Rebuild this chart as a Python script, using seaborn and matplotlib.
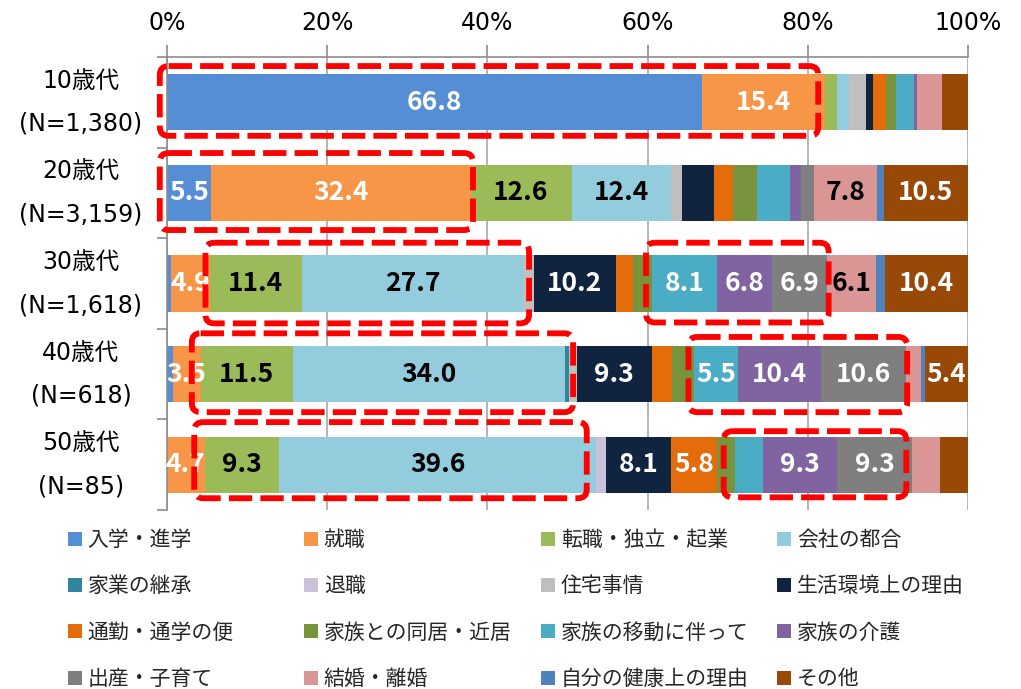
import matplotlib
matplotlib.use("Agg")
import matplotlib.pyplot as plt
import seaborn as sns
import pandas as pd
import numpy as np
from matplotlib.patches import FancyBboxPatch, Patch

# ---------------- data ----------------
age_groups = ["10歳代\n(N=1,380)", "20歳代\n(N=3,159)", "30歳代\n(N=1,618)",
              "40歳代\n(N=618)", "50歳代\n(N=85)"]

reasons = ["入学・進学", "就職", "転職・独立・起業", "会社の都合",
           "家業の継承", "退職", "住宅事情", "生活環境上の理由",
           "通勤・通学の便", "家族との同居・近居", "家族の移動に伴って", "家族の介護",
           "出産・子育て", "結婚・離婚", "自分の健康上の理由", "その他"]

colors = ["#558ED5", "#F79646", "#9BBB59", "#93CDDD",
          "#31859C", "#CCC1DA", "#BFBFBF", "#11243F",
          "#E46C0A", "#77933C", "#4BACC6", "#8064A2",
          "#7F7F7F", "#D99694", "#4F81BD", "#984807"]

share_10s = [66.8, 15.4, 1.5, 1.5, 0.0, 0.0, 2.1, 0.8, 1.7, 1.2, 2.3, 0.3, 0.0, 3.1, 0.0, 3.3]
share_20s = [5.5, 32.4, 12.6, 12.4, 0.0, 0.0, 1.4, 4.0, 2.3, 3.1, 4.1, 1.3, 1.7, 7.8, 0.9, 10.5]
share_30s = [0.5, 4.9, 11.4, 27.7, 0.0, 0.0, 1.3, 10.2, 2.2, 2.4, 8.1, 6.8, 6.9, 6.1, 1.1, 10.4]
share_40s = [0.7, 3.5, 11.5, 34.0, 0.5, 0.0, 1.0, 9.3, 2.6, 2.7, 5.5, 10.4, 10.6, 1.8, 0.5, 5.4]
share_50s = [0.0, 4.7, 9.3, 39.6, 0.0, 1.2, 0.0, 8.1, 5.8, 2.2, 3.5, 9.3, 9.3, 3.5, 0.0, 3.5]

# which segments carry a value label (indices into reasons), per age group
labelled = [
    [0, 1],
    [0, 1, 2, 3, 13, 15],
    [1, 2, 3, 7, 10, 11, 12, 13, 15],
    [1, 2, 3, 7, 10, 11, 12, 15],
    [1, 2, 3, 7, 8, 11, 12],
]
dark_text_reasons = {"転職・独立・起業", "会社の都合", "結婚・離婚"}

# highlighted (red dashed) regions: (row, x from, x to, top offset, bottom offset)
highlights = [
    (0, -0.9, 81.3, 0.40, 0.37),
    (1, -0.9, 38.2, 0.44, 0.41),
    (2, 4.8, 45.2, 0.45, 0.44),
    (2, 59.8, 82.6, 0.45, 0.43),
    (3, 3.1, 50.7, 0.45, 0.42),
    (3, 65.1, 92.4, 0.41, 0.42),
    (4, 3.4, 52.4, 0.47, 0.37),
    (4, 69.5, 92.3, 0.37, 0.36),
]

# ---------------- figure ----------------
sns.set_theme(style="white")
plt.rcParams["font.family"] = ["DejaVu Sans", "Noto Sans CJK JP"]

W, H = 1021, 689
fig = plt.figure(figsize=(W / 100, H / 100), dpi=100)
ax = fig.add_axes([167 / W, 1 - 510 / H, (968 - 167) / W, (510 - 57) / H])

df = pd.DataFrame([share_10s, share_20s, share_30s, share_40s, share_50s], columns=reasons)
df.insert(0, "age", age_groups)

cum = np.zeros(len(age_groups))
for reason, color in zip(reasons, colors):
    sns.barplot(data=df, x=reason, y="age", orient="h", left=cum.copy(),
                color=color, saturation=1, width=0.62, linewidth=0,
                errorbar=None, ax=ax, zorder=2)
    cum += df[reason].to_numpy()

# value labels
for r, idxs in enumerate(labelled):
    vals = df.loc[r, reasons].to_numpy(dtype=float)
    starts = np.concatenate([[0], np.cumsum(vals)[:-1]])
    for i in idxs:
        tc = "black" if reasons[i] in dark_text_reasons else "white"
        ax.text(starts[i] + vals[i] / 2, r, f"{vals[i]:.1f}", ha="center", va="center",
                fontsize=19, fontweight="bold", color=tc,
                family=["Noto Sans CJK JP"], zorder=3)

# red dashed boxes
aspect = (1 / 90.6) / (1 / 8.01)
for r, x0, x1, up, down in highlights:
    box = FancyBboxPatch((x0, r - up), x1 - x0, up + down,
                         boxstyle="round,pad=0,rounding_size=1.1",
                         mutation_aspect=aspect, fill=False,
                         edgecolor="#FF0000", linewidth=4.2,
                         linestyle=(0, (4.0, 1.4)), zorder=4, clip_on=False)
    ax.add_patch(box)

# axes styling
ax.set_xlim(0, 100)
ax.set_ylim(4.5, -0.5)
ax.set_xlabel("")
ax.set_ylabel("")
ax.xaxis.tick_top()
ax.set_xticks([0, 20, 40, 60, 80, 100])
ax.set_xticklabels([f"{t}%" for t in [0, 20, 40, 60, 80, 100]])
ax.tick_params(axis="x", which="major", top=True, bottom=False, direction="out",
               length=9, width=1.2, color="#8C8C8C", pad=7, labelsize=17,
               labelcolor="black")
ax.xaxis.grid(True, color="#A0A0A0", linewidth=1.1, zorder=0)
ax.yaxis.grid(False)
ax.set_axisbelow(True)

ax.set_yticks(range(len(age_groups)))
ax.set_yticklabels(age_groups, ha="center", va="center", multialignment="center",
                   linespacing=2.0)
ax.tick_params(axis="y", which="major", left=False, length=0, pad=62, labelsize=17,
               labelcolor="black")
ax.set_yticks(np.arange(-0.5, 5.0, 1.0), minor=True)
ax.tick_params(axis="y", which="minor", left=True, direction="out", length=7,
               width=1.2, color="#8C8C8C")

for side in ["right", "bottom"]:
    ax.spines[side].set_visible(False)
for side in ["top", "left"]:
    ax.spines[side].set_visible(True)
    ax.spines[side].set_color("#8C8C8C")
    ax.spines[side].set_linewidth(1.2)

# legend: 4 columns, filled row by row
col_x = [68, 304, 541, 777]
for c in range(4):
    handles = [Patch(facecolor=colors[r * 4 + c], edgecolor="none") for r in range(4)]
    labels = [reasons[r * 4 + c] for r in range(4)]
    fig.legend(handles, labels, loc="upper left",
               bbox_to_anchor=(col_x[c] / W, 1 - 529 / H),
               frameon=False, ncol=1, borderpad=0, borderaxespad=0,
               handlelength=0.65, handleheight=0.65, handletextpad=0.3,
               labelspacing=1.17, prop={"family": ["Noto Sans CJK JP"], "size": 15})

fig.savefig("out.png", dpi=100)
